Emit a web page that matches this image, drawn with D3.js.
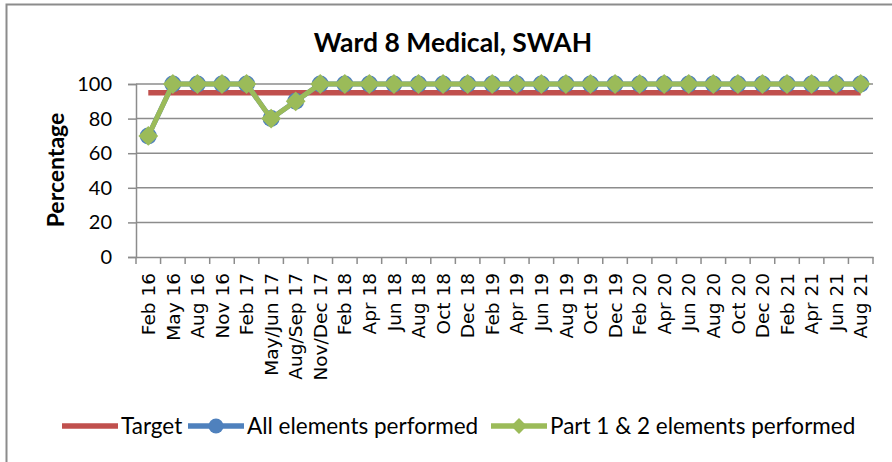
<!DOCTYPE html>
<html>
<head>
<meta charset="utf-8">
<script src="https://cdn.jsdelivr.net/npm/d3@7"></script>
<style>
  body { margin: 0; background: #fff; }
  svg { display: block; font-family: Lato, "Liberation Sans", sans-serif; }
</style>
</head>
<body>
<svg width="892" height="462"></svg>
<script>
// ================= DATA ===================
const categories = [
  "Feb 16", "May 16", "Aug 16", "Nov 16", "Feb 17", "May/Jun 17", "Aug/Sep 17",
  "Nov/Dec 17", "Feb 18", "Apr 18", "Jun 18", "Aug 18", "Oct 18", "Dec 18",
  "Feb 19", "Apr 19", "Jun 19", "Aug 19", "Oct 19", "Dec 19", "Feb 20",
  "Apr 20", "Jun 20", "Aug 20", "Oct 20", "Dec 20", "Feb 21", "Apr 21",
  "Jun 21", "Aug 21"
];
const target = categories.map(() => 95);
const allElements = [70, 100, 100, 100, 100, 80, 90, 100, 100, 100, 100, 100, 100, 100, 100,
  100, 100, 100, 100, 100, 100, 100, 100, 100, 100, 100, 100, 100, 100, 100];
const part12Elements = [70, 100, 100, 100, 100, 80, 90, 100, 100, 100, 100, 100, 100, 100, 100,
  100, 100, 100, 100, 100, 100, 100, 100, 100, 100, 100, 100, 100, 100, 100];
const yTicks = [0, 20, 40, 60, 80, 100];

// ================= LAYOUT ===================
const svg = d3.select("svg");
const plot = { left: 136, right: 873, top: 84, bottom: 257 };
const colors = { target: "#C0504D", all: "#4F81BD", part: "#9BBB59" };
const gridColor = "#8c8c8c";

// chart border (only top and left visible in the crop)
svg.append("path")
  .attr("d", "M6.5,462 V4.5 H892")
  .attr("fill", "none")
  .attr("stroke", gridColor)
  .attr("stroke-width", 2);

const x = d3.scaleBand().domain(categories).range([plot.left, plot.right]);
const y = d3.scaleLinear().domain([0, 100]).range([plot.bottom, plot.top]);
const cx = (d) => x(d) + x.bandwidth() / 2;

// gridlines
svg.append("g")
  .selectAll("line")
  .data(yTicks.filter((t) => t > 0))
  .join("line")
  .attr("x1", plot.left)
  .attr("x2", plot.right)
  .attr("y1", (d) => y(d))
  .attr("y2", (d) => y(d))
  .attr("stroke", gridColor)
  .attr("stroke-width", 1.5);

// y axis
const yAxis = svg.append("g")
  .attr("transform", `translate(${plot.left},0)`)
  .call(d3.axisLeft(y).tickValues(yTicks).tickSize(8).tickPadding(16));
yAxis.select(".domain").attr("stroke", gridColor).attr("stroke-width", 1.5);
yAxis.selectAll(".tick line").attr("stroke", gridColor).attr("stroke-width", 1.5);
yAxis.selectAll("text")
  .style("font-family", "Lato, sans-serif")
  .style("font-size", "20px")
  .attr("fill", "#000");

// x axis
const xAxis = svg.append("g")
  .attr("transform", `translate(0,${plot.bottom})`)
  .call(d3.axisBottom(x).tickSizeOuter(0).tickSize(0));
xAxis.select(".domain").attr("stroke", gridColor).attr("stroke-width", 1.5);
xAxis.selectAll("text")
  .style("font-family", "'DejaVu Sans', sans-serif")
  .style("font-size", "18.5px")
  .attr("fill", "#000")
  .attr("transform", "rotate(-90)")
  .attr("text-anchor", "end")
  .attr("dy", "0.36em")
  .attr("x", -16)
  .attr("y", 0);
// tick marks at the category boundaries
svg.append("g")
  .selectAll("line")
  .data(categories.concat([null]))
  .join("line")
  .attr("x1", (d, i) => plot.left + i * x.step())
  .attr("x2", (d, i) => plot.left + i * x.step())
  .attr("y1", plot.bottom)
  .attr("y2", plot.bottom + 7)
  .attr("stroke", gridColor)
  .attr("stroke-width", 1.5);

// title
svg.append("text")
  .attr("x", 453)
  .attr("y", 52)
  .attr("text-anchor", "middle")
  .attr("font-weight", "bold")
  .attr("font-size", 26.5)
  .text("Ward 8 Medical, SWAH");

// y label
svg.append("text")
  .attr("transform", "translate(64,170) rotate(-90)")
  .attr("text-anchor", "middle")
  .attr("font-weight", "bold")
  .attr("font-size", 23)
  .text("Percentage");

// ================= SERIES ===================
const line = d3.line().x((d, i) => cx(categories[i])).y((d) => y(d));

svg.append("path")
  .datum(target)
  .attr("d", line)
  .attr("fill", "none")
  .attr("stroke", colors.target)
  .attr("stroke-width", 5.5);

svg.append("path")
  .datum(allElements)
  .attr("d", line)
  .attr("fill", "none")
  .attr("stroke", colors.all)
  .attr("stroke-width", 5);
svg.append("g")
  .selectAll("circle")
  .data(allElements)
  .join("circle")
  .attr("cx", (d, i) => cx(categories[i]))
  .attr("cy", (d) => y(d))
  .attr("r", 8.5)
  .attr("fill", colors.all);

svg.append("path")
  .datum(part12Elements)
  .attr("d", line)
  .attr("fill", "none")
  .attr("stroke", colors.part)
  .attr("stroke-width", 5);
svg.append("g")
  .selectAll("path")
  .data(part12Elements)
  .join("path")
  .attr("d", d3.symbol(d3.symbolDiamond2, 250))
  .attr("transform", (d, i) => `translate(${cx(categories[i])},${y(d)})`)
  .attr("fill", colors.part);

// ================= LEGEND ===================
const legendItems = [
  { label: "Target", color: colors.target, x: 62, marker: null },
  { label: "All elements performed", color: colors.all, x: 188, marker: "circle" },
  { label: "Part 1 & 2 elements performed", color: colors.part, x: 491, marker: "diamond" }
];
const legendY = 426;
const legend = svg.append("g")
  .selectAll("g")
  .data(legendItems)
  .join("g")
  .attr("transform", (d) => `translate(${d.x},${legendY})`);
legend.append("line")
  .attr("x1", 0)
  .attr("x2", 56)
  .attr("stroke", (d) => d.color)
  .attr("stroke-width", 5.5);
legend.filter((d) => d.marker === "circle")
  .append("circle")
  .attr("cx", 28)
  .attr("r", 7.5)
  .attr("fill", (d) => d.color);
legend.filter((d) => d.marker === "diamond")
  .append("path")
  .attr("transform", "translate(28,0)")
  .attr("d", d3.symbol(d3.symbolDiamond2, 160))
  .attr("fill", (d) => d.color);
legend.append("text")
  .attr("x", 59)
  .attr("dy", "0.35em")
  .attr("font-size", 22.5)
  .text((d) => d.label);
</script>
</body>
</html>
